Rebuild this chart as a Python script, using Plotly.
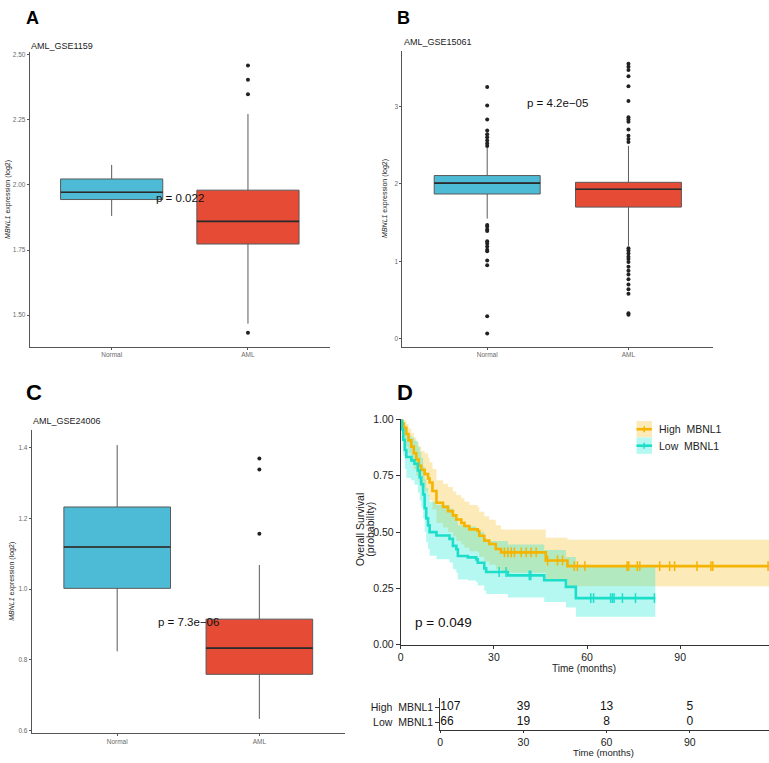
import plotly.graph_objects as go

# ---------------- DATA ----------------
categories = ["Normal", "AML"]

# Panel A: AML_GSE1159
a_q1 = [1.944, 1.773]
a_med = [1.972, 1.860]
a_q3 = [2.023, 1.980]
a_lo = [1.881, 1.467]
a_hi = [2.077, 2.273]
a_out = [[], [2.459, 2.404, 2.349, 1.432]]
a_p = "p = 0.022"

# Panel B: AML_GSE15061
b_q1 = [1.869, 1.700]
b_med = [2.010, 1.930]
b_q3 = [2.107, 2.020]
b_lo = [1.552, 1.200]
b_hi = [2.470, 2.490]
b_out = [
    [3.25, 3.01, 2.83, 2.69, 2.64, 2.60, 2.56, 2.52, 2.49,
     1.47, 1.45, 1.41, 1.39, 1.26, 1.23, 1.19, 1.15, 1.13, 1.01, 0.95, 0.29, 0.07],
    [3.55, 3.51, 3.47, 3.39, 3.26, 3.07, 2.86, 2.83, 2.80, 2.70, 2.62, 2.58, 2.54,
     1.17, 1.14, 1.10, 1.06, 1.03, 0.99, 0.93, 0.88, 0.83, 0.77, 0.70, 0.64, 0.58, 0.33, 0.31],
]
b_p = "p = 4.2e\u221205"

# Panel C: AML_GSE24006
c_q1 = [1.002, 0.759]
c_med = [1.119, 0.833]
c_q3 = [1.232, 0.915]
c_lo = [0.824, 0.633]
c_hi = [1.407, 1.068]
c_out = [[], [1.369, 1.338, 1.156]]
c_p = "p = 7.3e\u221206"

# Panel D: Kaplan-Meier
t_high = [0, 0.5, 1.0, 1.8, 2.5, 3.4, 4.2, 5.0, 5.8, 6.6, 7.7, 8.8, 9.3, 10.2, 11.5, 13.6,
          15.2, 16.8, 17.9, 19.5, 20.5, 22.1, 24.8, 25.3, 26.9, 28.5, 30.6, 32.3, 46.7, 53.7, 118.6]
s_high = [1.0, 0.981, 0.963, 0.935, 0.907, 0.879, 0.850, 0.822, 0.794, 0.776, 0.757, 0.738, 0.720,
          0.682, 0.630, 0.612, 0.593, 0.574, 0.556, 0.541, 0.527, 0.512, 0.505, 0.484, 0.462,
          0.447, 0.425, 0.410, 0.374, 0.349, 0.349]
hi_upper = [1.0, 1.0, 0.995, 0.98, 0.96, 0.94, 0.92, 0.90, 0.88, 0.86, 0.85, 0.83, 0.81, 0.78,
            0.73, 0.715, 0.70, 0.68, 0.665, 0.65, 0.635, 0.62, 0.61, 0.59, 0.57, 0.555, 0.53,
            0.512, 0.475, 0.466, 0.466]
hi_lower = [1.0, 0.95, 0.92, 0.88, 0.85, 0.81, 0.78, 0.75, 0.72, 0.70, 0.68, 0.66, 0.64, 0.60,
            0.54, 0.52, 0.50, 0.48, 0.46, 0.445, 0.43, 0.415, 0.41, 0.39, 0.37, 0.355, 0.335,
            0.32, 0.285, 0.26, 0.26]
cens_high = [33.4, 34.5, 35.6, 36.6, 38.8, 40.4, 42.0, 43.6, 47.3, 50.5, 52.1, 55.9, 56.9,
             59.3, 72.9, 73.4, 76.2, 77.0, 83.4, 86.6, 88.2, 95.4, 99.9, 100.5, 118.3]

t_low = [0, 0.4, 0.8, 1.3, 1.8, 3.4, 4.4, 5.5, 6.1, 6.6, 7.2, 7.7, 8.2, 8.8, 9.3, 11.5, 15.7,
         16.8, 17.9, 18.4, 21.6, 24.3, 24.8, 26.9, 27.5, 34.5, 46.2, 53.2, 56.4, 82.0]
s_low = [1.0, 0.955, 0.910, 0.864, 0.833, 0.818, 0.803, 0.773, 0.742, 0.712, 0.667, 0.606,
         0.561, 0.530, 0.500, 0.485, 0.470, 0.439, 0.424, 0.394, 0.388, 0.379, 0.364, 0.339,
         0.323, 0.308, 0.286, 0.257, 0.207, 0.207]
lo_upper = [1.0, 1.0, 0.98, 0.95, 0.93, 0.92, 0.905, 0.88, 0.855, 0.83, 0.79, 0.735, 0.695,
            0.665, 0.635, 0.62, 0.605, 0.575, 0.56, 0.53, 0.525, 0.515, 0.50, 0.475, 0.46,
            0.445, 0.42, 0.39, 0.345, 0.345]
lo_lower = [1.0, 0.91, 0.84, 0.78, 0.74, 0.73, 0.71, 0.675, 0.64, 0.61, 0.56, 0.50, 0.455,
            0.425, 0.395, 0.38, 0.365, 0.335, 0.32, 0.29, 0.285, 0.278, 0.263, 0.24, 0.225,
            0.21, 0.19, 0.165, 0.124, 0.124]
cens_low = [31.7, 33.9, 41.4, 41.9, 61.2, 62.1, 67.6, 68.2, 68.7, 71.4, 75.6, 81.7]
d_p = "p = 0.049"
group_names = ["High\u00a0\u00a0MBNL1", "Low\u00a0\u00a0MBNL1"]

risk_times = [0, 30, 60, 90]
risk_high = [107, 39, 13, 5]
risk_low = [66, 19, 8, 0]

# ---------------- STYLE ----------------
W, H = 769, 763
FONT = "Liberation Sans, Arial, sans-serif"
BOX_COLORS = ["#4DBBD5", "#E64B35"]
HIGH_C = "#F5B400"
LOW_C = "#1CDEC9"
HIGH_FILL = "rgba(245,180,0,0.28)"
LOW_FILL = "rgba(0,230,210,0.29)"


def px(x):
    return x / W


def py(y):
    return 1 - y / H


fig = go.Figure()


def add_boxes(xa, ya, q1, med, q3, lo, hi, outs):
    for i in range(len(categories)):
        xpos = i + 1
        fig.add_trace(go.Box(
            x=[xpos], q1=[q1[i]], median=[med[i]], q3=[q3[i]],
            lowerfence=[lo[i]], upperfence=[hi[i]], width=0.75,
            fillcolor=BOX_COLORS[i], line=dict(color="#5a5a5a", width=1),
            whiskerwidth=0, boxpoints=False, xaxis=xa, yaxis=ya,
            showlegend=False, hoverinfo="skip"))
        fig.add_trace(go.Scatter(
            x=[xpos - 0.375, xpos + 0.375], y=[med[i], med[i]], mode="lines",
            line=dict(color="#2a2a2a", width=1.6), xaxis=xa, yaxis=ya,
            showlegend=False, hoverinfo="skip"))
        if outs[i]:
            fig.add_trace(go.Scatter(
                x=[xpos] * len(outs[i]), y=outs[i], mode="markers",
                marker=dict(size=4, color="#222222"), xaxis=xa, yaxis=ya,
                showlegend=False, hoverinfo="skip"))


add_boxes("x", "y", a_q1, a_med, a_q3, a_lo, a_hi, a_out)
add_boxes("x2", "y2", b_q1, b_med, b_q3, b_lo, b_hi, b_out)
add_boxes("x3", "y3", c_q1, c_med, c_q3, c_lo, c_hi, c_out)


def step_value(times, surv, t):
    v = surv[0]
    for tt, ss in zip(times, surv):
        if tt <= t:
            v = ss
    return v


# KM bands
for t, lo, up, fc in [(t_high, hi_lower, hi_upper, HIGH_FILL), (t_low, lo_lower, lo_upper, LOW_FILL)]:
    fig.add_trace(go.Scatter(x=t, y=lo, mode="lines", line=dict(width=0, shape="hv"),
                             xaxis="x4", yaxis="y4", showlegend=False, hoverinfo="skip"))
    fig.add_trace(go.Scatter(x=t, y=up, mode="lines", line=dict(width=0, shape="hv"),
                             fill="tonexty", fillcolor=fc,
                             xaxis="x4", yaxis="y4", showlegend=False, hoverinfo="skip"))

for t, s, c, cens in [(t_high, s_high, HIGH_C, cens_high), (t_low, s_low, LOW_C, cens_low)]:
    fig.add_trace(go.Scatter(x=t, y=s, mode="lines", line=dict(color=c, width=2.6, shape="hv"),
                             xaxis="x4", yaxis="y4", showlegend=False, hoverinfo="skip"))
    fig.add_trace(go.Scatter(
        x=cens, y=[step_value(t, s, ct) for ct in cens], mode="markers",
        marker=dict(symbol="line-ns-open", size=7, color=c, line=dict(color=c, width=1.5)),
        xaxis="x4", yaxis="y4", showlegend=False, hoverinfo="skip"))

# risk table
for yv, vals in [(2, risk_high), (1, risk_low)]:
    fig.add_trace(go.Scatter(
        x=risk_times, y=[yv] * len(risk_times), mode="text",
        text=[str(v) for v in vals],
        textposition=["middle right"] + ["middle center"] * (len(risk_times) - 1),
        textfont=dict(family=FONT, size=12, color="#111111"),
        xaxis="x5", yaxis="y5", showlegend=False, hoverinfo="skip"))

# ---------------- AXES ----------------
small_tick = dict(family=FONT, size=6.5, color="#6a6a6a")
box_x = dict(range=[0.4, 2.6], tickvals=[1, 2], ticktext=categories, showline=True,
             linecolor="#555555", linewidth=1.2, ticks="outside", ticklen=2,
             tickcolor="#555555", tickfont=small_tick, showgrid=False, zeroline=False)
box_y = dict(showline=True, linecolor="#555555", linewidth=1.2, ticks="outside", ticklen=2,
             tickcolor="#555555", tickfont=small_tick, showgrid=False, zeroline=False)

km_tick = dict(family=FONT, size=10.5, color="#222222")

fig.update_layout(
    width=W, height=H, margin=dict(l=0, r=0, t=0, b=0),
    paper_bgcolor="white", plot_bgcolor="white",
    font=dict(family=FONT),
    xaxis=dict(domain=[px(27), px(328)], anchor="y", **box_x),
    yaxis=dict(domain=[py(346), py(47)], anchor="x", range=[1.379, 2.51],
               tickvals=[1.5, 1.75, 2.0, 2.25, 2.5], tickformat=".2f", **box_y),
    xaxis2=dict(domain=[px(401), px(713)], anchor="y2", **box_x),
    yaxis2=dict(domain=[py(346), py(45.7)], anchor="x2", range=[-0.10, 3.715],
                tickvals=[0, 1, 2, 3], **box_y),
    xaxis3=dict(domain=[px(29), px(343)], anchor="y3", **box_x),
    yaxis3=dict(domain=[py(738.3), py(431)], anchor="x3", range=[0.594, 1.449],
                tickvals=[0.6, 0.8, 1.0, 1.2, 1.4], tickformat=".1f", **box_y),
    xaxis4=dict(domain=[px(399.3), 1.0], anchor="y4", range=[0, 118.6],
                tickvals=[0, 30, 60, 90], showline=True, linecolor="#333333", linewidth=1,
                ticks="outside", ticklen=3, tickcolor="#333333", tickfont=km_tick,
                showgrid=False, zeroline=False),
    yaxis4=dict(domain=[py(649), py(420)], anchor="x4", range=[0, 1.0],
                tickvals=[0, 0.25, 0.5, 0.75, 1.0], tickformat=".2f", showline=True,
                linecolor="#333333", linewidth=1, ticks="outside", ticklen=4,
                tickcolor="#333333", tickfont=km_tick, showgrid=False, zeroline=False),
    xaxis5=dict(domain=[px(439), 1.0], anchor="y5", range=[0, 118.6],
                tickvals=[0, 30, 60, 90], showline=True, linecolor="#333333", linewidth=1,
                ticks="outside", ticklen=2, tickcolor="#333333", tickfont=km_tick,
                showgrid=False, zeroline=False),
    yaxis5=dict(domain=[py(736), py(703)], anchor="x5", range=[0.45, 2.645],
                tickvals=[2, 1], ticktext=group_names, showline=True,
                linecolor="#333333", linewidth=1, ticks="outside", ticklen=4,
                tickcolor="#333333", tickfont=km_tick, showgrid=False, zeroline=False),
)

# ---------------- ANNOTATIONS ----------------
ann = []


def add_text(x, y, text, size, xanchor="left", yanchor="middle", color="#111111",
             angle=0, xref="paper", yref="paper", bold=False):
    ann.append(dict(x=x, y=y, xref=xref, yref=yref, text=(f"<b>{text}</b>" if bold else text),
                    showarrow=False, xanchor=xanchor, yanchor=yanchor, textangle=angle,
                    font=dict(family=FONT, size=size, color=color)))


# panel letters
add_text(px(21), py(12.5), "A", 18, bold=True, color="#000000")
add_text(px(394), py(12.5), "B", 18, bold=True, color="#000000")
add_text(px(21), py(393), "C", 22, bold=True, color="#000000")
add_text(px(394), py(393), "D", 22, bold=True, color="#000000")

# titles
add_text(px(26.5), py(40.7), "AML_GSE1159", 9, color="#222222")
add_text(px(400.5), py(36.7), "AML_GSE15061", 9, color="#222222")
add_text(px(28.5), py(421.7), "AML_GSE24006", 9, color="#222222")

# y axis titles for box panels
ytitle = "<i>MBNL1</i> expression (log2)"
add_text(px(5.5), py(196.5), ytitle, 7, xanchor="center", angle=-90, color="#222222")
add_text(px(383.5), py(196), ytitle, 7, xanchor="center", angle=-90, color="#222222")
add_text(px(9.5), py(584.5), ytitle, 7, xanchor="center", angle=-90, color="#222222")

# p values
add_text(1.5, 1.951, a_p, 11.5, xanchor="center", xref="x", yref="y", color="#111111")
add_text(1.5, 3.04, b_p, 11.5, xanchor="center", xref="x2", yref="y2", color="#111111")
add_text(1.5, 0.907, c_p, 11.5, xanchor="center", xref="x3", yref="y3", color="#111111")
add_text(4.1, 0.10, d_p, 13.5, xanchor="left", xref="x4", yref="y4", color="#111111")

# KM axis titles
add_text(px(358), py(532), "Overall Survival", 10.5, xanchor="center", angle=-90, color="#222222")
add_text(px(368.5), py(532), "(probability)", 10.5, xanchor="center", angle=-90, color="#222222")
add_text(px(583.5), py(673.5), "Time (months)", 10, xanchor="center", color="#222222")
add_text(px(603), py(758.5), "Time (months)", 9.5, xanchor="center", color="#222222")

# legend (manual)
legend_rows = [(430.0, HIGH_C, HIGH_FILL), (446.7, LOW_C, LOW_FILL)]
shapes = []
for (yc, lc, fc), name in zip(legend_rows, group_names):
    shapes.append(dict(type="rect", xref="paper", yref="paper",
                       x0=px(636), x1=px(651.5), y0=py(yc + 8.3), y1=py(yc - 8.3),
                       fillcolor=fc, line=dict(width=0), layer="below"))
    shapes.append(dict(type="line", xref="paper", yref="paper",
                       x0=px(636), x1=px(651.5), y0=py(yc), y1=py(yc),
                       line=dict(color=lc, width=2.6)))
    shapes.append(dict(type="line", xref="paper", yref="paper",
                       x0=px(643.7), x1=px(643.7), y0=py(yc - 3), y1=py(yc + 3),
                       line=dict(color=lc, width=1.5)))
    add_text(px(656.5), py(yc), name, 10.5, color="#222222")

fig.update_layout(annotations=ann, shapes=shapes)

fig.write_html("out.html")
